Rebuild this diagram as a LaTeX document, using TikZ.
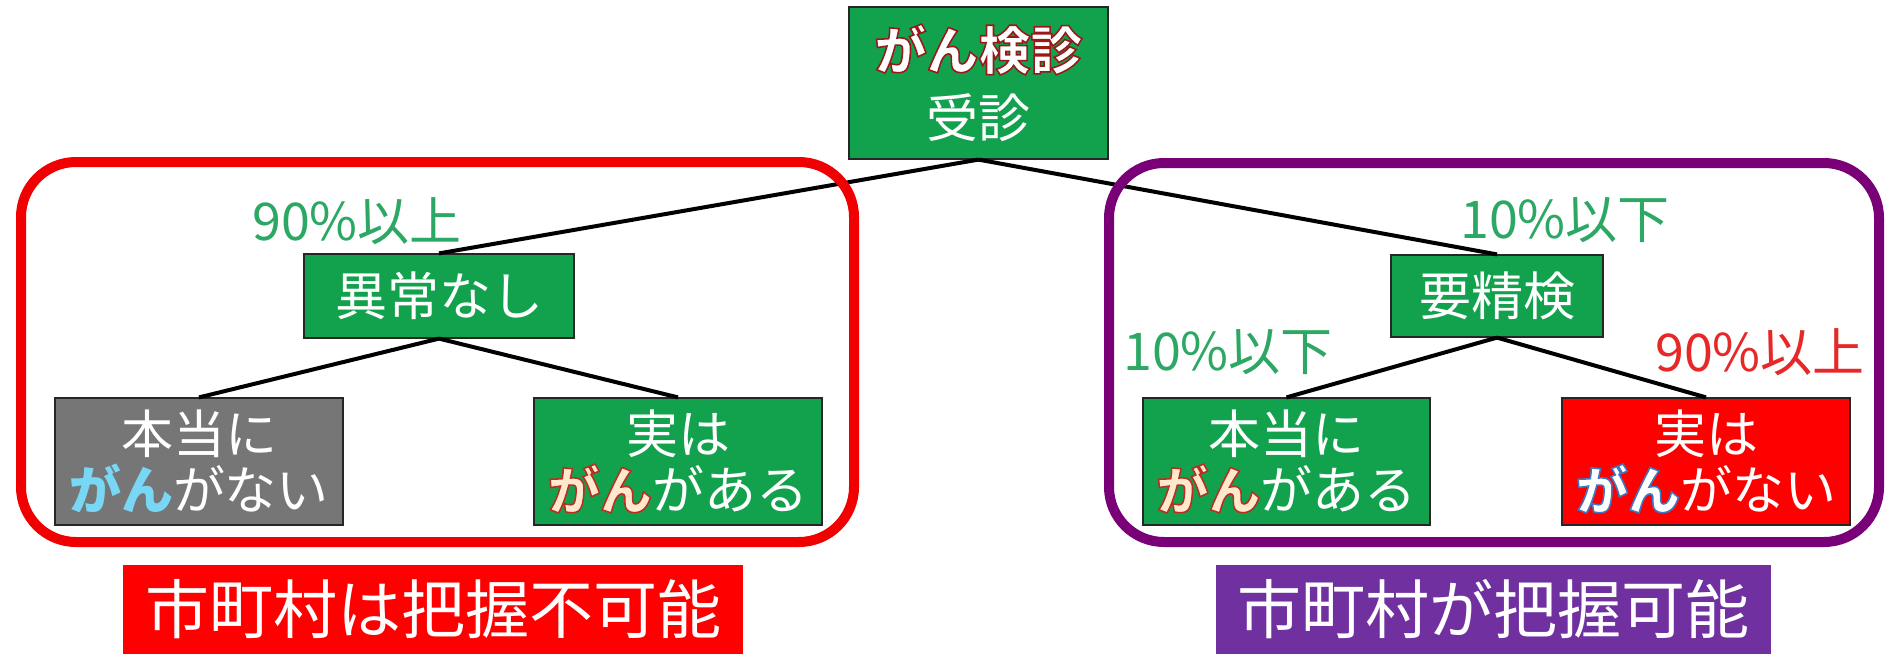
\documentclass[tikz,border=0pt]{standalone}
\usepackage{fontspec}
\newfontfamily\jp{Noto Sans CJK JP}
\newfontfamily\jpol{Noto Sans CJK JP}[FakeBold=3]
\definecolor{boxgreen}{RGB}{18,161,76}
\definecolor{boxgray}{RGB}{118,118,118}
\definecolor{boxred}{RGB}{255,0,0}
\definecolor{framered}{RGB}{240,0,0}
\definecolor{framepurple}{RGB}{122,0,120}
\definecolor{boxpurple}{RGB}{112,48,160}
\definecolor{lblgreen}{RGB}{44,168,100}
\definecolor{lblred}{RGB}{230,40,40}
\definecolor{ganblue}{RGB}{120,215,245}
\definecolor{gancream}{RGB}{255,232,205}
% outlined text: fill colour #1, stroke colour given as pdf rgb #2
\newcommand\outl[3]{{\jpol\bfseries\color{#1}\special{pdf:code #2 RG}#3}}
\tikzset{
  nbox/.style={draw=black!85, line width=1.2pt, inner sep=0pt, align=center,
    text=white, font=\jp\fontsize{52}{56}\selectfont},
  conn/.style={line width=4pt, black},
  lbl/.style={inner sep=0pt, font=\jp\fontsize{52}{56}\selectfont},
  frame/.style={line width=10pt, rounded corners=55pt},
  bigbox/.style={inner sep=0pt, text=white, font=\jp\fontsize{64}{70}\selectfont}
}
\begin{document}
\begin{tikzpicture}[x=1pt,y=-1pt]
\useasboundingbox[fill=white] (0,0) rectangle (1888,654);

% boxes
\node[nbox, fill=boxgreen, minimum width=259, minimum height=152,
  font=\jp\fontsize{52}{68}\selectfont] (top) at (978.5,83)
  {\outl{white}{0.6 0.1 0.1}{がん検診}\\受診};
\node[nbox, fill=boxgreen, minimum width=270, minimum height=84] (ijo) at (439,296) {異常なし};
\node[nbox, fill=boxgreen, minimum width=212, minimum height=82] (yose) at (1497,296) {要精検};
\node[nbox, fill=boxgray, minimum width=288, minimum height=127] (tn) at (199,461.5)
  {本当に\\{\bfseries\color{ganblue}がん}がない};
\node[nbox, fill=boxgreen, minimum width=288, minimum height=127] (fp) at (678,461.5)
  {実は\\\outl{gancream}{0.73 0.18 0.12}{がん}がある};
\node[nbox, fill=boxgreen, minimum width=287, minimum height=127] (tp) at (1286.5,461.5)
  {本当に\\\outl{gancream}{0.73 0.18 0.12}{がん}がある};
\node[nbox, fill=boxred, minimum width=288, minimum height=127] (fn) at (1706,461.5)
  {実は\\\outl{white}{0.24 0.47 0.78}{がん}がない};

% labels
\node[lbl, text=lblgreen] (l1) at (357,221) {90\%以上};
\node[lbl, text=lblgreen] (l2) at (1565,220) {10\%以下};
\node[lbl, text=lblgreen] (l3) at (1228,352) {10\%以下};
\node[lbl, text=lblred] (l4) at (1760,352) {90\%以上};

% connectors
\draw[conn] (top.south) -- (ijo.north);
\draw[conn] (top.south) -- (yose.north);
\draw[conn] (ijo.south) -- (tn.north);
\draw[conn] (ijo.south) -- (fp.north);
\draw[conn] (yose.south) -- (tp.north);
\draw[conn] (yose.south) -- (fn.north);

% frames
\draw[frame, framered] (21,162) rectangle (854,542);
\draw[frame, framepurple] (1109,163) rectangle (1879,542);

% bottom labels
\node[bigbox, fill=boxred, minimum width=620, minimum height=89] (cant) at (433,609.5) {市町村は把握不可能};
\node[bigbox, fill=boxpurple, minimum width=555, minimum height=89] (can) at (1493.5,609.5) {市町村が把握可能};
\end{tikzpicture}
\end{document}
